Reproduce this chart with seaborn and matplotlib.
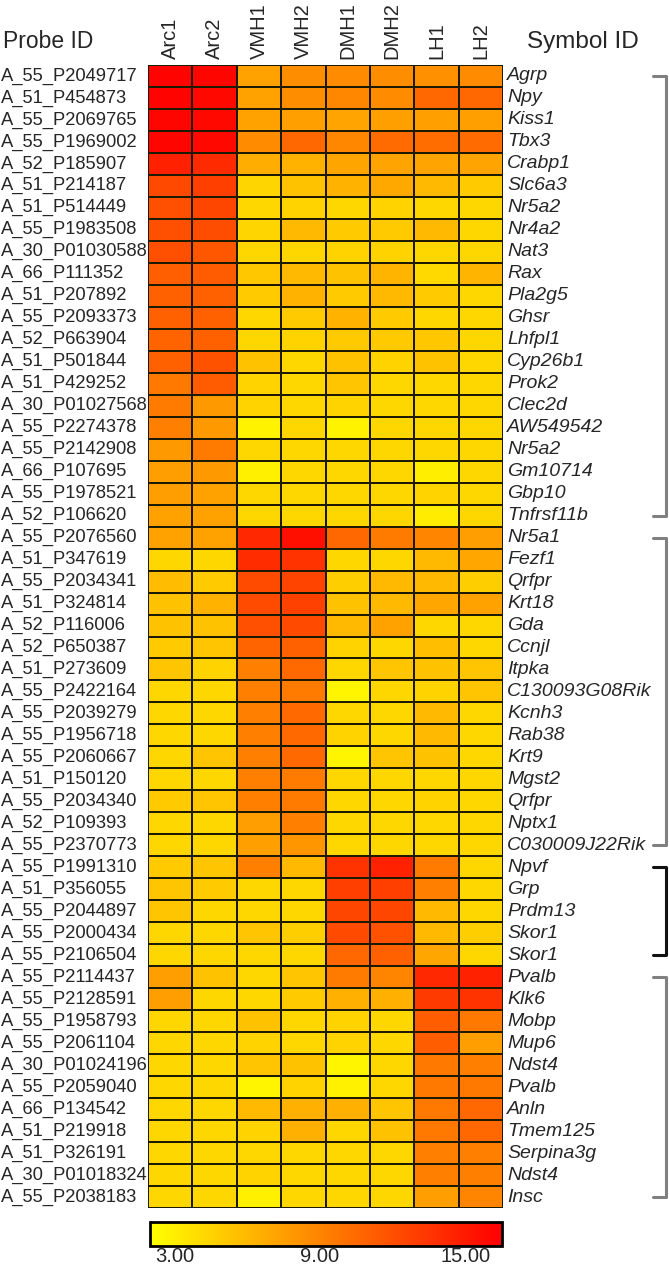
import numpy as np
import pandas as pd
import matplotlib
matplotlib.use("Agg")
import matplotlib.pyplot as plt
from matplotlib.colors import LinearSegmentedColormap
from matplotlib.lines import Line2D
import matplotlib.transforms as mtransforms
import seaborn as sns

sns.set_style("white")
plt.rcParams['font.family'] = ['Liberation Sans', 'DejaVu Sans']

# column (sample) names
samples = ['Arc1', 'Arc2', 'VMH1', 'VMH2', 'DMH1', 'DMH2', 'LH1', 'LH2']

probe_ids = ['A_55_P2049717', 'A_51_P454873', 'A_55_P2069765', 'A_55_P1969002', 'A_52_P185907',
             'A_51_P214187', 'A_51_P514449', 'A_55_P1983508', 'A_30_P01030588', 'A_66_P111352',
             'A_51_P207892', 'A_55_P2093373', 'A_52_P663904', 'A_51_P501844', 'A_51_P429252',
             'A_30_P01027568', 'A_55_P2274378', 'A_55_P2142908', 'A_66_P107695', 'A_55_P1978521',
             'A_52_P106620',
             'A_55_P2076560', 'A_51_P347619', 'A_55_P2034341', 'A_51_P324814', 'A_52_P116006',
             'A_52_P650387', 'A_51_P273609', 'A_55_P2422164', 'A_55_P2039279', 'A_55_P1956718',
             'A_55_P2060667', 'A_51_P150120', 'A_55_P2034340', 'A_52_P109393', 'A_55_P2370773',
             'A_55_P1991310', 'A_51_P356055', 'A_55_P2044897', 'A_55_P2000434', 'A_55_P2106504',
             'A_55_P2114437', 'A_55_P2128591', 'A_55_P1958793', 'A_55_P2061104', 'A_30_P01024196',
             'A_55_P2059040', 'A_66_P134542', 'A_51_P219918', 'A_51_P326191', 'A_30_P01018324',
             'A_55_P2038183']

symbols = ['Agrp', 'Npy', 'Kiss1', 'Tbx3', 'Crabp1', 'Slc6a3', 'Nr5a2', 'Nr4a2', 'Nat3', 'Rax',
           'Pla2g5', 'Ghsr', 'Lhfpl1', 'Cyp26b1', 'Prok2', 'Clec2d', 'AW549542', 'Nr5a2', 'Gm10714',
           'Gbp10', 'Tnfrsf11b',
           'Nr5a1', 'Fezf1', 'Qrfpr', 'Krt18', 'Gda', 'Ccnjl', 'Itpka', 'C130093G08Rik', 'Kcnh3',
           'Rab38', 'Krt9', 'Mgst2', 'Qrfpr', 'Nptx1', 'C030009J22Rik',
           'Npvf', 'Grp', 'Prdm13', 'Skor1', 'Skor1',
           'Pvalb', 'Klk6', 'Mobp', 'Mup6', 'Ndst4', 'Pvalb', 'Anln', 'Tmem125', 'Serpina3g',
           'Ndst4', 'Insc']

# expression values, one row per probe, grouped by enriched region
arc_rows = [
    [16.3, 16.2, 7.3, 8.5, 8.6, 8.5, 8.3, 8.6],
    [16.3, 16.0, 7.3, 8.5, 8.8, 8.6, 10.6, 10.6],
    [16.2, 16.0, 7.3, 7.4, 7.2, 7.4, 7.4, 7.4],
    [16.2, 16.0, 8.6, 10.6, 8.8, 10.4, 10.3, 10.4],
    [14.6, 14.1, 6.7, 6.4, 7.1, 7.2, 7.2, 7.2],
    [12.4, 12.9, 4.4, 5.5, 6.4, 6.9, 6.0, 5.0],
    [12.0, 12.5, 4.3, 4.5, 4.3, 4.5, 4.3, 4.3],
    [12.0, 12.1, 4.4, 6.0, 5.0, 5.0, 6.0, 4.3],
    [12.0, 11.6, 4.3, 4.3, 4.5, 4.5, 4.3, 4.3],
    [11.1, 11.3, 5.2, 6.0, 5.5, 6.3, 4.2, 6.3],
    [11.0, 11.0, 5.0, 6.4, 5.0, 6.0, 5.0, 4.3],
    [11.0, 11.0, 4.3, 5.0, 6.4, 5.0, 4.3, 4.3],
    [10.8, 11.0, 4.3, 4.5, 5.0, 5.0, 5.2, 4.3],
    [11.0, 11.8, 5.5, 4.3, 5.5, 4.5, 5.5, 4.3],
    [9.6, 11.3, 4.5, 4.3, 5.3, 4.3, 4.3, 4.3],
    [9.5, 7.8, 4.5, 4.3, 4.5, 4.3, 4.3, 4.3],
    [9.3, 7.8, 2.7, 4.3, 2.7, 4.3, 4.3, 4.3],
    [7.8, 9.5, 4.3, 4.3, 4.3, 4.3, 4.3, 4.3],
    [7.5, 7.8, 2.9, 4.3, 4.3, 4.3, 3.0, 4.3],
    [7.5, 7.3, 4.3, 4.3, 4.3, 4.3, 4.5, 4.3],
    [7.3, 7.3, 4.3, 4.3, 4.3, 4.3, 3.1, 4.3],
]
vmh_rows = [
    [7.3, 7.3, 14.2, 15.6, 10.6, 9.5, 9.0, 7.5],
    [4.3, 4.3, 14.0, 13.6, 4.3, 4.3, 6.0, 7.0],
    [5.8, 5.0, 12.2, 12.6, 4.8, 6.0, 6.0, 4.8],
    [5.5, 6.4, 12.2, 12.8, 5.5, 6.0, 7.0, 7.3],
    [5.5, 5.5, 12.0, 12.3, 6.0, 7.3, 4.3, 4.3],
    [5.0, 5.3, 10.8, 11.0, 4.5, 4.3, 5.7, 4.3],
    [5.3, 4.5, 9.3, 10.5, 4.3, 5.3, 5.5, 5.3],
    [4.3, 4.3, 9.3, 9.5, 2.6, 4.3, 4.5, 5.3],
    [4.3, 4.3, 9.3, 10.5, 4.3, 4.3, 6.0, 4.3],
    [4.3, 4.3, 9.3, 10.5, 4.5, 4.3, 6.0, 4.3],
    [4.3, 5.3, 9.3, 10.5, 2.6, 5.3, 5.5, 4.3],
    [4.3, 4.3, 9.3, 9.5, 4.3, 4.3, 4.3, 4.3],
    [5.0, 5.3, 9.3, 9.5, 4.3, 4.3, 4.5, 4.3],
    [4.3, 4.3, 7.5, 9.3, 4.3, 4.3, 4.3, 4.3],
    [4.3, 4.3, 7.4, 8.0, 4.3, 4.3, 4.3, 4.3],
]
dmh_rows = [
    [5.0, 5.3, 9.3, 6.0, 13.6, 14.6, 9.5, 4.3],
    [5.3, 5.0, 4.3, 4.3, 12.9, 12.9, 9.3, 4.3],
    [5.3, 4.3, 4.3, 4.3, 12.5, 12.5, 6.0, 4.3],
    [4.3, 4.3, 5.3, 4.8, 12.3, 11.9, 6.0, 4.8],
    [4.3, 4.3, 4.3, 4.3, 10.6, 11.0, 7.0, 4.3],
]
lh_rows = [
    [7.5, 5.5, 4.3, 5.3, 9.5, 9.0, 14.2, 14.6],
    [7.5, 4.3, 4.3, 5.0, 6.5, 6.5, 13.2, 13.6],
    [4.3, 4.3, 5.5, 4.3, 4.5, 4.3, 11.2, 9.6],
    [4.3, 4.3, 4.5, 4.3, 4.5, 4.3, 11.2, 7.5],
    [4.3, 4.3, 5.3, 5.5, 2.6, 4.3, 9.6, 9.3],
    [4.3, 4.3, 2.6, 4.5, 2.8, 4.3, 9.6, 9.6],
    [4.3, 4.3, 6.0, 6.5, 6.5, 5.3, 9.6, 10.6],
    [4.3, 4.3, 4.5, 6.5, 4.3, 5.5, 9.6, 10.6],
    [4.3, 4.3, 4.3, 4.3, 4.3, 4.3, 9.3, 9.3],
    [4.3, 4.3, 4.5, 4.3, 4.3, 4.3, 9.3, 9.3],
    [4.3, 4.3, 2.9, 4.3, 4.3, 4.3, 7.5, 9.0],
]

groups = [arc_rows, vmh_rows, dmh_rows, lh_rows]
group_colors = ['#808080', '#808080', '#111111', '#808080']

cbar_ticks = [3, 9, 15]
cbar_ticklabels = ['3.00', '9.00', '15.00']

values = np.vstack([np.array(g) for g in groups])
df = pd.DataFrame(values, index=probe_ids, columns=samples)

W, H = 669, 1268
fig = plt.figure(figsize=(W / 100, H / 100), dpi=100)

def box(x0, y0, x1, y1):
    return [x0 / W, 1 - y1 / H, (x1 - x0) / W, (y1 - y0) / H]

ax = fig.add_axes(box(148, 65, 503, 1208))
cax = fig.add_axes(box(150, 1222, 502, 1246))

cmap = LinearSegmentedColormap.from_list('yr', ['#FFFF00', '#FF0000'])
sns.heatmap(df, ax=ax, cmap=cmap, vmin=2, vmax=16.5, linewidths=1.1, linecolor='#1e1a00',
            cbar=True, cbar_ax=cax, cbar_kws={'orientation': 'horizontal'},
            xticklabels=True, yticklabels=False)

ax.xaxis.tick_top()
ax.tick_params(axis='x', length=0, pad=4, labelsize=14.5, rotation=90)
for lbl in ax.get_xticklabels():
    lbl.set_va('bottom')
ax.set_xlabel('')
ax.set_ylabel('')

# row labels on both sides
side_tr = mtransforms.blended_transform_factory(fig.transFigure, ax.transData)
for i, (pid, sym) in enumerate(zip(probe_ids, symbols)):
    ax.text(1 / W, i + 0.5, pid, transform=side_tr, fontsize=13.2, ha='left', va='center')
    ax.text(507 / W, i + 0.5, sym, transform=side_tr, fontsize=14, ha='left', va='center',
            style='italic')

fig.text(48 / W, 1 - 42 / H, 'Probe ID', fontsize=16.5, ha='center', va='center')
fig.text(583 / W, 1 - 42 / H, 'Symbol ID', fontsize=17.5, ha='center', va='center')

# brackets for each group
start = 0
for g, col in zip(groups, group_colors):
    y0 = start + 0.5
    y1 = start + len(g) - 0.5
    xs = [653 / W, 666 / W, 666 / W, 653 / W]
    ys = [y0, y0, y1, y1]
    ax.add_line(Line2D(xs, ys, transform=side_tr, color=col, lw=2.2, clip_on=False))
    start += len(g)

cbar = ax.collections[0].colorbar
cbar.set_ticks(cbar_ticks)
cbar.set_ticklabels(cbar_ticklabels)
cbar.ax.tick_params(length=0, labelsize=14.5, pad=1)
cbar.outline.set_linewidth(2)
cbar.outline.set_edgecolor('black')

fig.savefig('out.png', dpi=100)
